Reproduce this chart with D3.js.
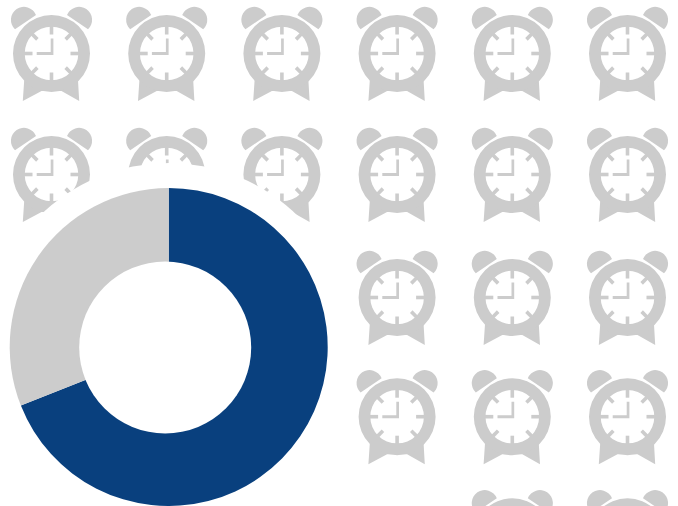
<!DOCTYPE html>
<html>
<head>
<meta charset="utf-8">
<style>html,body{margin:0;padding:0;background:#fff;overflow:hidden}svg{display:block}</style>
<script src="https://cdn.jsdelivr.net/npm/d3@7/dist/d3.min.js"></script>
</head>
<body>
<svg id="chart" width="678" height="506"></svg>
<script>
// Share shown by the ring, and the rows of the clock pictogram
const shareLabels = ["Filled", "Remainder"];
const shareValues = [69, 31];
const rowIds = [0, 1, 2, 3, 4];
const columnIds = [0, 1, 2, 3, 4, 5];
const firstColumnInRow = [0, 0, 0, 1, 4];

const svg = d3.select("#chart");
const GREY = "#cccccc", BLUE = "#09407e";

const x = d3.scalePoint().domain(columnIds).range([51.5, 627.5]);
const y = d3.scaleOrdinal().domain(rowIds).range([53.5, 174.5, 297.5, 416.7, 536.7]);

// Alarm clock glyph, centred on its dial
const bell = "M-15.5-38.5A13 13 0 1 0-36.5-24.2Z M15.5-38.5A13 13 0 1 1 36.5-24.2Z";
const feet = "M-27.3 26.7L-28.7 47.5L-10 37.5L10 37.5L27.7 47.5L26.5 26.7Z";
const dial = "M38.5 0A38.5 38.5 0 1 1-38.5 0A38.5 38.5 0 1 1 38.5 0Z M26.8 0A26.8 26.8 0 1 0-26.8 0A26.8 26.8 0 1 0 26.8 0Z";
const hands = "M-.8-15H1.9V1.5H-14.8V-1.5H-.8Z";
const tickAngles = d3.range(0, 360, 45);

function drawClock(g) {
  g.append("path").attr("d", bell + feet);
  g.append("path").attr("d", dial).attr("fill-rule", "evenodd");
  g.append("path").attr("d", hands);
  g.selectAll("rect").data(tickAngles).join("rect")
    .attr("x", -1.8).attr("y", -27.5).attr("width", 3.6)
    .attr("height", d => d % 90 === 0 ? 8.5 : 7.5)
    .attr("transform", d => `rotate(${d})`);
}

const slots = rowIds.flatMap(r => columnIds.filter(c => c >= firstColumnInRow[r]).map(c => ({ r, c })));
svg.append("g").attr("fill", GREY).selectAll("g").data(slots).join("g")
  .attr("transform", d => `translate(${x(d.c)},${y(d.r)})`)
  .each(function () { drawClock(d3.select(this)); });

// Ring sits on a white disc that knocks out the clocks behind it
const cx = 168.7, cy = 347;
svg.append("circle").attr("cx", cx).attr("cy", cy).attr("r", 184).attr("fill", "#fff");

const pie = d3.pie().sort(null)(shareValues);
const arc = d3.arc().innerRadius(0).outerRadius(159);
svg.append("g").attr("transform", `translate(${cx},${cy})`)
  .selectAll("path").data(pie).join("path")
  .attr("d", arc)
  .attr("fill", (d, i) => [BLUE, GREY][i])
  .append("title").text((d, i) => shareLabels[i]);

svg.append("circle").attr("cx", 165.2).attr("cy", 347.5).attr("r", 86).attr("fill", "#fff");
</script>
</body>
</html>
